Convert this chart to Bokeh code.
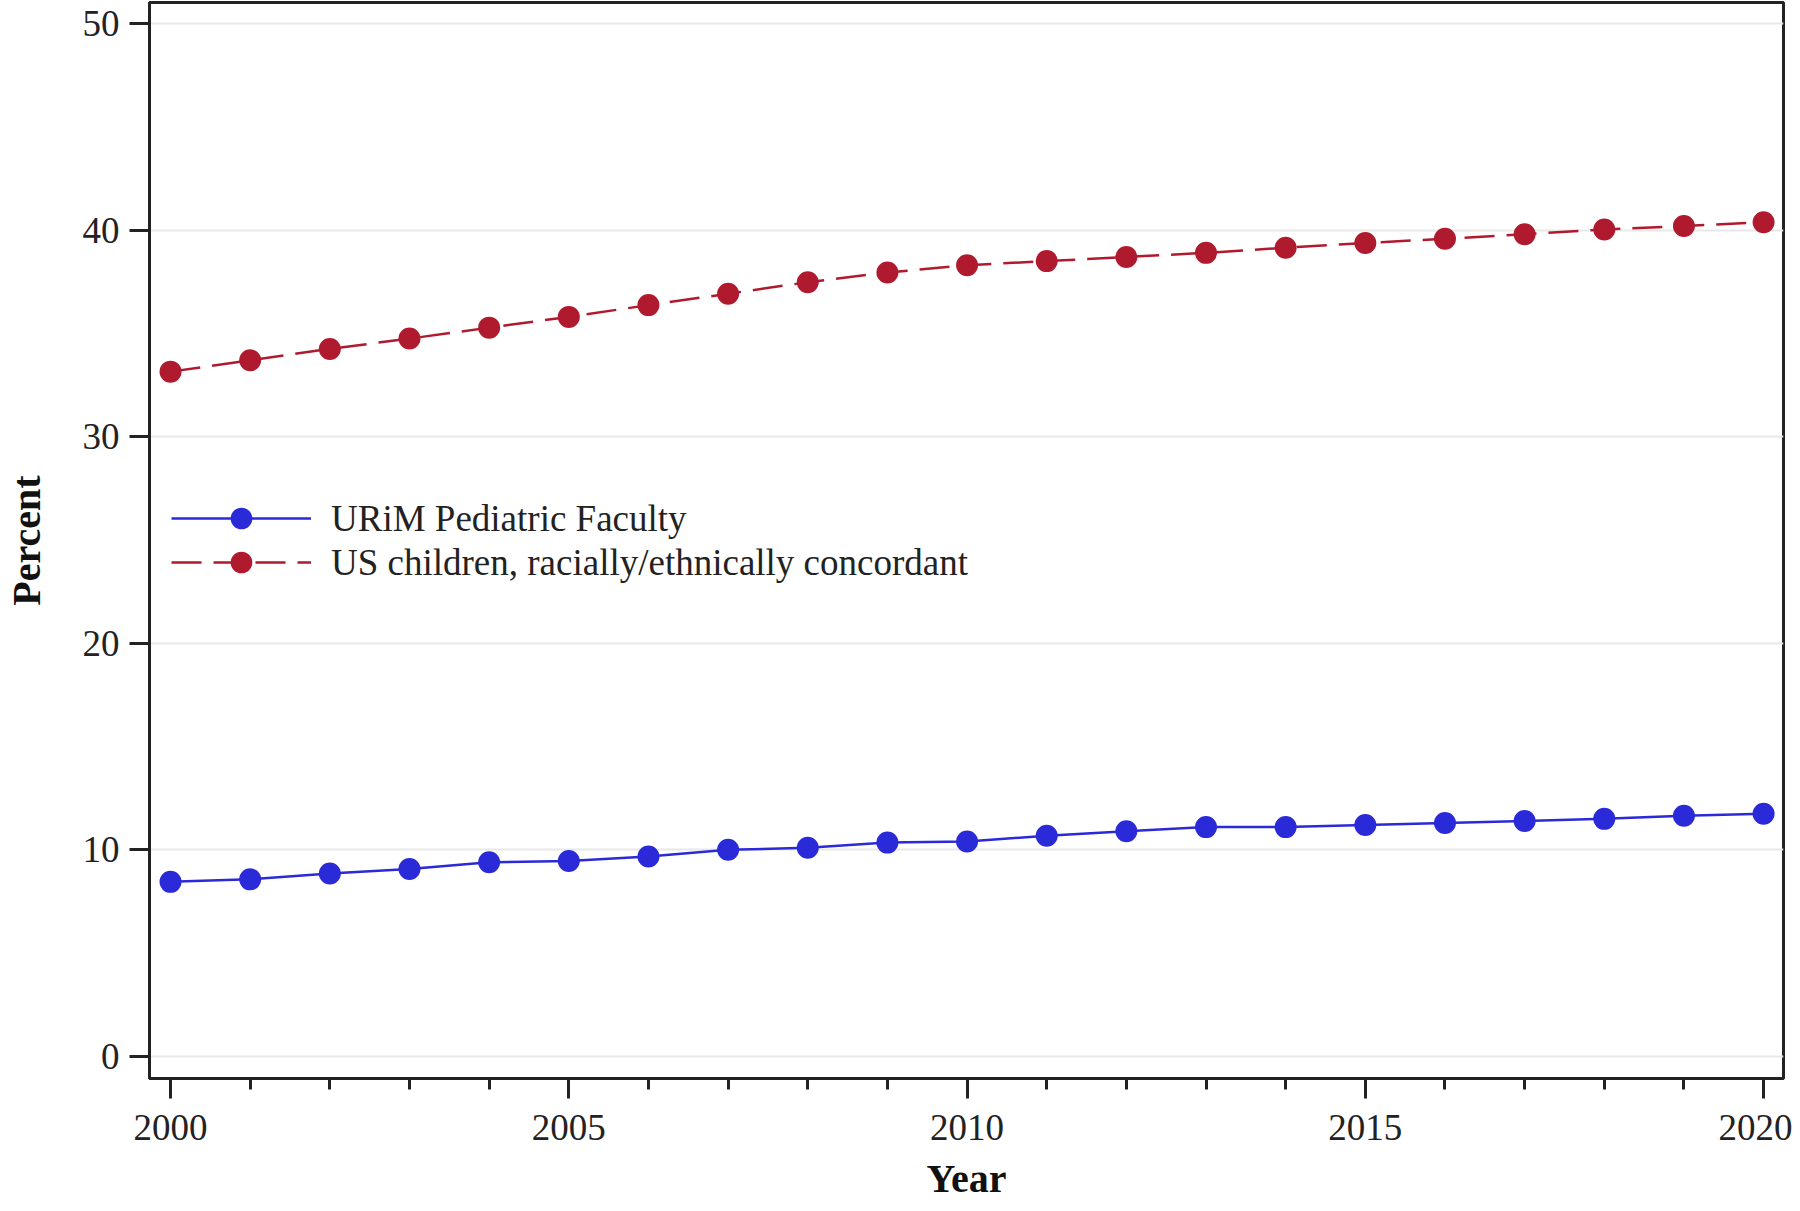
from bokeh.plotting import figure
from bokeh.models import Range1d, SingleIntervalTicker
from bokeh.embed import file_html
from bokeh.resources import INLINE

years = list(range(2000, 2021))
urim_faculty = [8.45, 8.57, 8.85, 9.07, 9.4, 9.46, 9.68, 10.0, 10.1, 10.35, 10.4,
                10.68, 10.9, 11.1, 11.1, 11.2, 11.3, 11.4, 11.5, 11.65, 11.75]
us_children = [33.15, 33.7, 34.25, 34.75, 35.28, 35.8, 36.37, 36.92, 37.48, 37.95, 38.3,
               38.5, 38.7, 38.9, 39.15, 39.38, 39.58, 39.8, 40.03, 40.2, 40.38]
series_names = ["URiM Pediatric Faculty", "US children, racially/ethnically concordant"]
x_label = "Year"
y_label = "Percent"

BLUE = "#2A2AD9"
RED = "#B01A2E"
FONT = "Liberation Serif"

p = figure(width=1792, height=1203, output_backend="svg", toolbar_location=None,
           x_range=Range1d(1999.736, 2020.25), y_range=Range1d(-1.07, 51.02),
           min_border_left=0, min_border_right=9, min_border_top=2, min_border_bottom=0)

p.line(years, urim_faculty, line_color=BLUE, line_width=2.5, legend_label=series_names[0])
p.scatter(years, urim_faculty, size=18, line_width=4, fill_color=BLUE, line_color=BLUE,
          legend_label=series_names[0])
p.line(years, us_children, line_color=RED, line_width=2.5, line_dash="30 12",
       legend_label=series_names[1])
p.scatter(years, us_children, size=18, line_width=4, fill_color=RED, line_color=RED,
          legend_label=series_names[1])

p.xaxis.ticker = SingleIntervalTicker(interval=5, num_minor_ticks=5)
p.yaxis.ticker = SingleIntervalTicker(interval=10, num_minor_ticks=0)

for ax in (p.xaxis, p.yaxis):
    ax.axis_line_color = "#222222"
    ax.axis_line_width = 3
    ax.major_tick_line_color = "#222222"
    ax.major_tick_line_width = 3
    ax.major_tick_out = 20
    ax.major_tick_in = 0
    ax.minor_tick_line_color = "#222222"
    ax.minor_tick_line_width = 3
    ax.minor_tick_out = 11
    ax.minor_tick_in = 0
    ax.major_label_text_font = FONT
    ax.major_label_text_font_size = "37px"
    ax.major_label_text_color = "#222222"
    ax.axis_label_text_font = FONT
    ax.axis_label_text_font_size = "40px"
    ax.axis_label_text_font_style = "bold"
    ax.axis_label_text_color = "#111111"

p.xaxis.axis_label = x_label
p.yaxis.axis_label = y_label
p.xaxis.major_label_standoff = 16
p.xaxis.axis_label_standoff = 13
p.yaxis.major_label_standoff = 10
p.yaxis.axis_label_standoff = 31

p.xgrid.grid_line_color = None
p.ygrid.grid_line_color = "#e8e8e8"
p.ygrid.grid_line_width = 2

p.outline_line_color = "#222222"
p.outline_line_width = 3
p.background_fill_color = "white"
p.border_fill_color = "white"

p.legend.location = (22, 494)
p.legend.label_text_font = FONT
p.legend.label_text_font_size = "37px"
p.legend.label_text_color = "#222222"
p.legend.glyph_width = 140
p.legend.glyph_height = 44
p.legend.label_standoff = 20
p.legend.spacing = 0
p.legend.padding = 0
p.legend.margin = 0
p.legend.border_line_color = None
p.legend.background_fill_alpha = 0

open("out.html", "w").write(file_html(p, INLINE))
